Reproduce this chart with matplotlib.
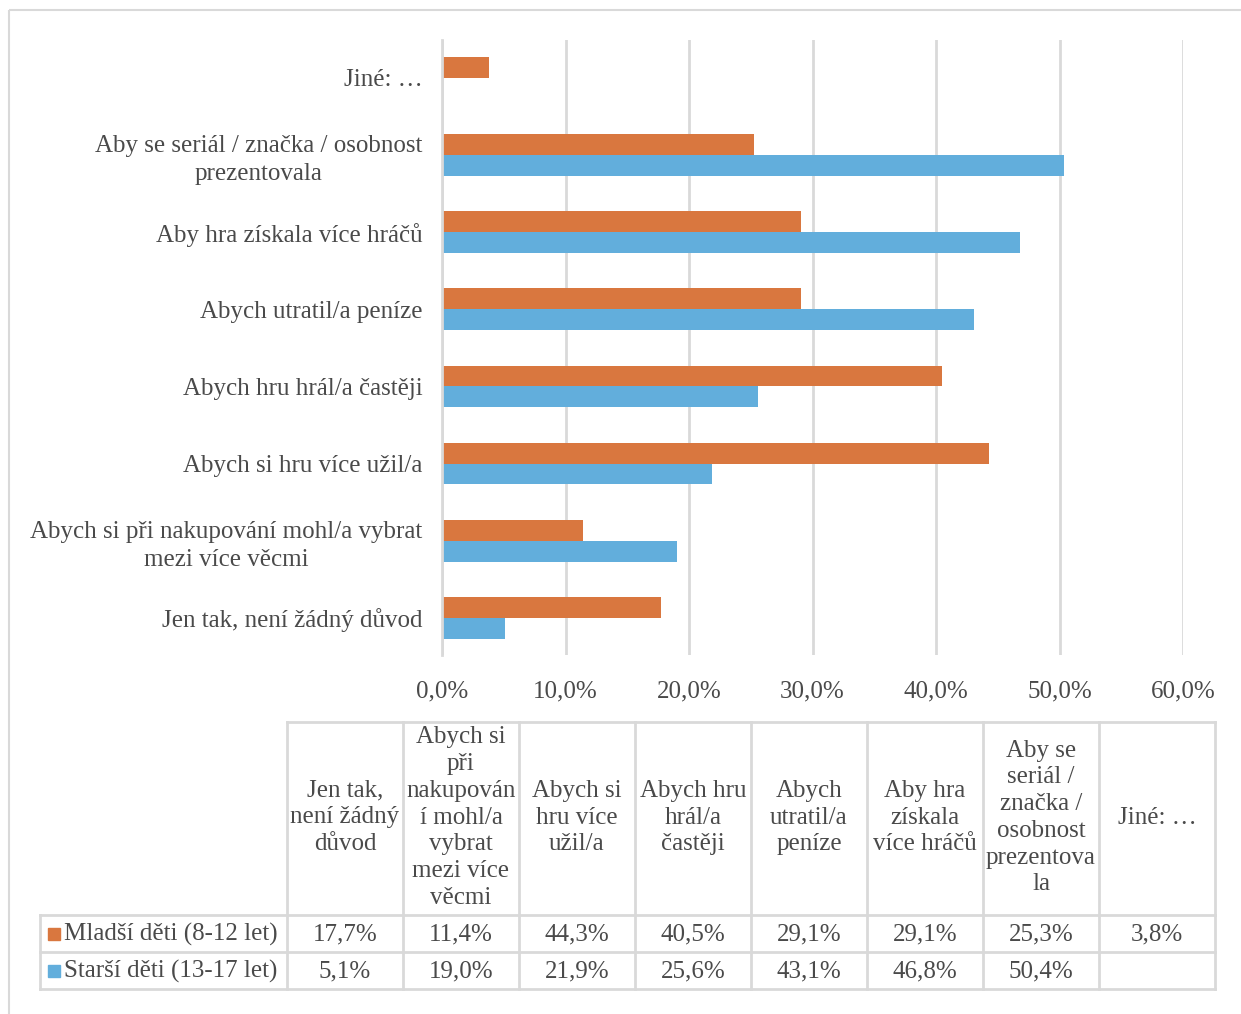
import numpy as np
import matplotlib.pyplot as plt
from matplotlib.patches import Rectangle

plt.rcParams['font.family'] = ['Liberation Serif', 'DejaVu Serif']

# kategorie odspodu nahoru (pořadí v grafu)
categories = [
    'Jen tak, není žádný důvod',
    'Abych si při nakupování mohl/a vybrat\nmezi více věcmi',
    'Abych si hru více užil/a',
    'Abych hru hrál/a častěji',
    'Abych utratil/a peníze',
    'Aby hra získala více hráčů',
    'Aby se seriál / značka / osobnost\nprezentovala',
    'Jiné: …',
]
# záhlaví tabulky (zalomení jako v Excelu)
table_headers = [
    'Jen tak,\nnení žádný\ndůvod',
    'Abych si\npři\nnakupován\ní mohl/a\nvybrat\nmezi více\nvěcmi',
    'Abych si\nhru více\nužil/a',
    'Abych hru\nhrál/a\nčastěji',
    'Abych\nutratil/a\npeníze',
    'Aby hra\nzískala\nvíce hráčů',
    'Aby se\nseriál /\nznačka /\nosobnost\nprezentova\nla',
    'Jiné: …',
]
series_names = ['Mladší děti (8-12 let)', 'Starší děti (13-17 let)']
mladsi = [17.7, 11.4, 44.3, 40.5, 29.1, 29.1, 25.3, 3.8]
starsi = [5.1, 19.0, 21.9, 25.6, 43.1, 46.8, 50.4, np.nan]
x_ticks = [0, 10, 20, 30, 40, 50, 60]

ORANGE = '#D9773F'
BLUE = '#62AEDC'
TEXT = '#4A4A4A'
GRID = '#D9D9D9'
FS = 18

W, H = 1241, 1014
fig = plt.figure(figsize=(W / 100, H / 100), dpi=100)

# podkladová osa v pixelech pro rámeček a tabulku
bg = fig.add_axes([0, 0, 1, 1])
bg.set_xlim(0, W)
bg.set_ylim(H, 0)
bg.axis('off')
bg.add_patch(Rectangle((9, 10), 1260, 1040, fill=False, edgecolor=GRID, lw=1.5))

# graf
left, right, top, bottom = 442, 1183, 40, 655
ax = fig.add_axes([left / W, 1 - bottom / H, (right - left) / W, (bottom - top) / H])
y = np.arange(len(categories))
h = 0.27
ax.barh(y + h / 2, mladsi, height=h, color=ORANGE, zorder=3)
ax.barh(y - h / 2, starsi, height=h, color=BLUE, zorder=3)
ax.set_ylim(-0.48, 7.49)
ax.set_xlim(0, 60)
ax.set_xticks(x_ticks)
ax.set_xticklabels([f'{v:.1f}%'.replace('.', ',') for v in x_ticks], fontsize=FS, color=TEXT)
ax.set_yticks(y)
ax.set_yticklabels(categories, fontsize=FS, color=TEXT, multialignment='center',
                   linespacing=1.33)
ax.tick_params(axis='both', length=0)
ax.tick_params(axis='y', pad=14)
ax.tick_params(axis='x', pad=18)
ax.grid(axis='x', color=GRID, lw=2, zorder=0)
for s in ['top', 'right', 'bottom']:
    ax.spines[s].set_visible(False)
ax.spines['left'].set_color(GRID)
ax.spines['left'].set_linewidth(2)
ax.spines['left'].set_zorder(4)

# tabulka dat
col_x = [287 + 116 * i for i in range(9)]
t_left, t_top, h_bot, r1_bot, r2_bot = 40, 722, 915, 952, 989
lkw = dict(color=GRID, lw=2)
bg.plot([col_x[0], col_x[-1]], [t_top, t_top], **lkw)
for yy in [h_bot, r1_bot, r2_bot]:
    bg.plot([t_left, col_x[-1]], [yy, yy], **lkw)
for xx in col_x:
    bg.plot([xx, xx], [t_top, r2_bot], **lkw)
bg.plot([t_left, t_left], [h_bot, r2_bot], **lkw)

for i, head in enumerate(table_headers):
    cx = (col_x[i] + col_x[i + 1]) / 2
    bg.text(cx, (t_top + h_bot) / 2 - 1, head, ha='center', va='center',
            fontsize=FS, color=TEXT, linespacing=1.28)

rows = [(series_names[0], mladsi, ORANGE, (h_bot + r1_bot) / 2),
        (series_names[1], starsi, BLUE, (r1_bot + r2_bot) / 2)]
for name, vals, col, cy in rows:
    bg.add_patch(Rectangle((48, cy - 6), 12, 12, color=col))
    bg.text(64, cy + 1, name, ha='left', va='center', fontsize=FS, color=TEXT)
    for i, v in enumerate(vals):
        if np.isnan(v):
            continue
        cx = (col_x[i] + col_x[i + 1]) / 2
        bg.text(cx, cy + 1, f'{v:.1f}%'.replace('.', ','), ha='center', va='center',
                fontsize=FS, color=TEXT)

fig.savefig('out.png', dpi=100)
